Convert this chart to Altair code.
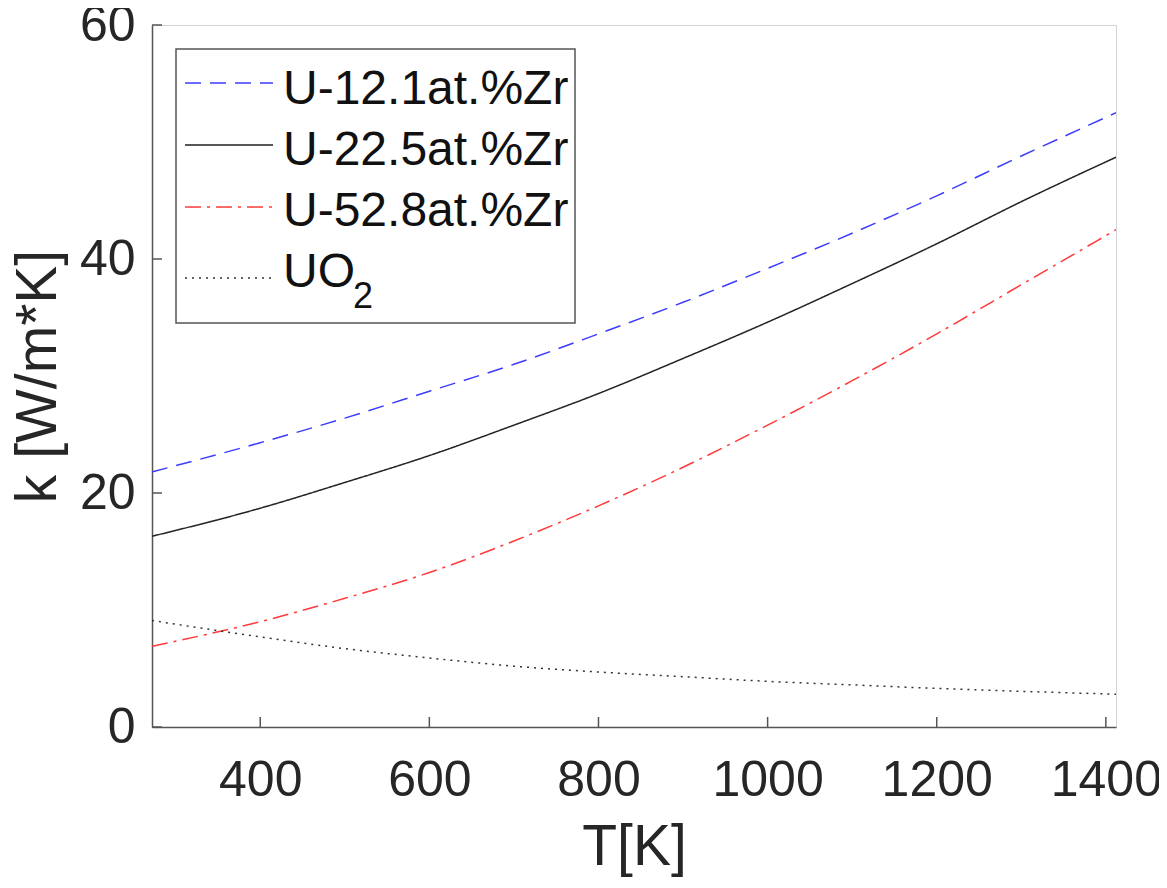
import altair as alt
import pandas as pd

# ---- data ----
series = ["U-12.1at.%Zr", "U-22.5at.%Zr", "U-52.8at.%Zr", "UO2"]
T = [272, 400, 500, 600, 700, 800, 900, 1000, 1100, 1200, 1300, 1412]
k_u12 = [21.8, 24.3, 26.4, 28.7, 31.0, 33.6, 36.3, 39.2, 42.2, 45.4, 48.8, 52.5]
k_u22 = [16.3, 18.7, 20.9, 23.2, 25.8, 28.5, 31.5, 34.6, 37.9, 41.3, 44.9, 48.7]
k_u52 = [6.9, 9.0, 11.0, 13.2, 15.9, 18.9, 22.2, 25.8, 29.6, 33.6, 37.8, 42.5]
k_uo2 = [9.1, 7.7, 6.7, 5.9, 5.2, 4.7, 4.3, 3.9, 3.6, 3.3, 3.05, 2.8]
x_ticks = [400, 600, 800, 1000, 1200, 1400]
y_ticks = [0, 20, 40, 60]
legend_labels = ["U-12.1at.%Zr", "U-22.5at.%Zr", "U-52.8at.%Zr", "UO", "2"]

colors = ["#3c3cff", "#222222", "#ff3a3a", "#333333"]
dashes = [[16, 9], [1, 0], [16, 6, 3, 6], [2, 5]]

rows = []
for name, ks in zip(series, [k_u12, k_u22, k_u52, k_uo2]):
    for t, k in zip(T, ks):
        rows.append({"series": name, "T": t, "k": k})
df = pd.DataFrame(rows)

FONT = "Liberation Sans"
TXT = "#262626"
AX = "#555555"

xs = alt.Scale(domain=[272, 1412], nice=False, zero=False)
ys = alt.Scale(domain=[0, 60], nice=False, zero=True)

xaxis = alt.Axis(title="T[K]", values=x_ticks, format="d", ticks=False, tickSize=0, grid=False,
                 labelFontSize=50, labelFont=FONT, labelColor=TXT, labelPadding=28,
                 titleFontSize=57, titleFont=FONT, titleColor=TXT, titleFontWeight="normal",
                 titlePadding=14, domainColor=AX, domainWidth=1.5, labelFlush=False)
yaxis = alt.Axis(title="k [W/m*K]", values=y_ticks, format="d", ticks=False, tickSize=0, grid=False,
                 labelFontSize=50, labelFont=FONT, labelColor=TXT, labelPadding=17,
                 titleFontSize=57, titleFont=FONT, titleColor=TXT, titleFontWeight="normal",
                 titlePadding=12, domainColor=AX, domainWidth=1.5, labelFlush=False)

lines = alt.Chart(df).mark_line(strokeWidth=1.5, interpolate="monotone", clip=True).encode(
    x=alt.X("T:Q", scale=xs, axis=xaxis),
    y=alt.Y("k:Q", scale=ys, axis=yaxis),
    color=alt.Color("series:N", scale=alt.Scale(domain=series, range=colors), legend=None),
    strokeDash=alt.StrokeDash("series:N", scale=alt.Scale(domain=series, range=dashes), legend=None),
    detail="series:N",
)

xt = alt.Chart(pd.DataFrame({"T": x_ticks})).mark_rule(color=AX, strokeWidth=1.5).encode(
    x=alt.X("T:Q", scale=xs, axis=xaxis), y=alt.value(702), y2=alt.value(692))
yt = alt.Chart(pd.DataFrame({"k": y_ticks})).mark_rule(color=AX, strokeWidth=1.5).encode(
    y=alt.Y("k:Q", scale=ys, axis=yaxis), x=alt.value(0), x2=alt.value(10))

box = alt.Chart(pd.DataFrame({"a": [0]})).mark_rect(fill="white", stroke=AX, strokeWidth=1.5).encode(
    x=alt.value(24), x2=alt.value(423), y=alt.value(24), y2=alt.value(298))

layers = [lines, xt, yt, box]
row_y = [58, 120, 182, 253]
for i in range(4):
    layers.append(
        alt.Chart(pd.DataFrame({"a": [0]})).mark_rule(
            color=colors[i], strokeWidth=1.5, strokeDash=dashes[i]
        ).encode(x=alt.value(33), x2=alt.value(121), y=alt.value(row_y[i]))
    )
text_y = [79, 140, 201]
for i in range(3):
    layers.append(
        alt.Chart(pd.DataFrame({"a": [0]})).mark_text(
            align="left", baseline="alphabetic", fontSize=48, font=FONT, color="#111111"
        ).encode(x=alt.value(131), y=alt.value(text_y[i]), text=alt.value(legend_labels[i]))
    )
layers.append(
    alt.Chart(pd.DataFrame({"a": [0]})).mark_text(
        align="left", baseline="alphabetic", fontSize=48, font=FONT, color="#111111"
    ).encode(x=alt.value(131), y=alt.value(262), text=alt.value(legend_labels[3]))
)
layers.append(
    alt.Chart(pd.DataFrame({"a": [0]})).mark_text(
        align="left", baseline="alphabetic", fontSize=36, font=FONT, color="#111111"
    ).encode(x=alt.value(201), y=alt.value(283), text=alt.value(legend_labels[4]))
)

chart = alt.layer(*layers).properties(
    width=964, height=702,
    autosize=alt.AutoSizeParams(type="none"),
    padding={"left": 144, "top": 17, "right": 43, "bottom": 153},
    background="white",
).configure_view(stroke="#d4d4d4", strokeWidth=1)

chart.save("out.html", embed_options={"renderer": "svg", "actions": False})
